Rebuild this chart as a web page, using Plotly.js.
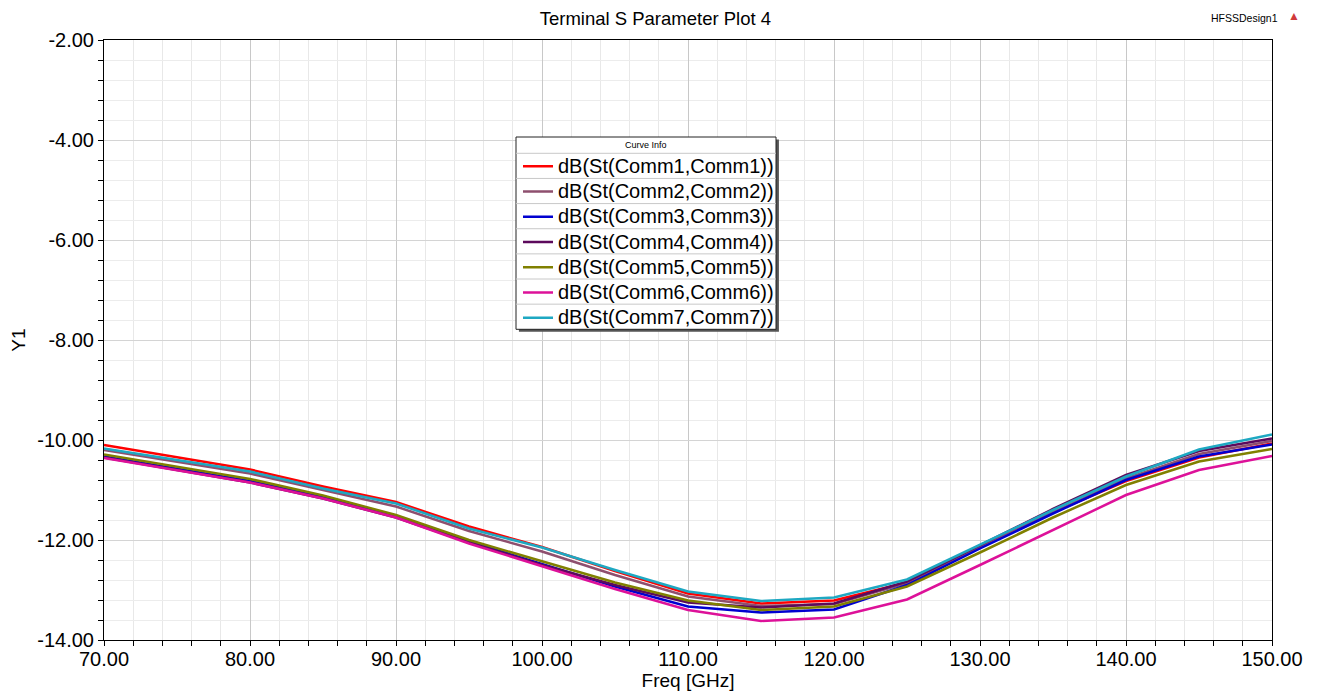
<!DOCTYPE html>
<html>
<head>
<meta charset="utf-8">
<script src="https://cdn.plot.ly/plotly-3.0.1.min.js"></script>
<style>
html,body{margin:0;padding:0;background:#fff;}
#plot{width:1320px;height:694px;}
.legendtext{font-size:20px !important;}
</style>
</head>
<body>
<div id="plot"></div>
<script>
// ---- data ----
const freq = [70,75,80,85,90,95,100,105,110,115,120,125,130,135,140,145,150];
const comm1 = [-10.10,-10.34,-10.59,-10.93,-11.24,-11.73,-12.14,-12.62,-13.07,-13.27,-13.21,-12.85,-12.15,-11.45,-10.82,-10.35,-10.07];
const comm2 = [-10.20,-10.43,-10.67,-11.00,-11.33,-11.82,-12.23,-12.70,-13.13,-13.32,-13.28,-12.86,-12.15,-11.45,-10.77,-10.28,-10.02];
const comm3 = [-10.33,-10.57,-10.82,-11.14,-11.52,-12.03,-12.48,-12.93,-13.33,-13.45,-13.39,-12.90,-12.17,-11.47,-10.80,-10.33,-10.09];
const comm4 = [-10.35,-10.60,-10.85,-11.17,-11.55,-12.05,-12.50,-12.90,-13.25,-13.35,-13.27,-12.83,-12.10,-11.38,-10.70,-10.22,-9.97];
const comm5 = [-10.29,-10.53,-10.78,-11.11,-11.50,-12.00,-12.43,-12.85,-13.21,-13.40,-13.33,-12.93,-12.25,-11.55,-10.90,-10.43,-10.18];
const comm6 = [-10.36,-10.61,-10.85,-11.17,-11.55,-12.07,-12.52,-12.98,-13.40,-13.62,-13.55,-13.19,-12.50,-11.80,-11.10,-10.60,-10.32];
const comm7 = [-10.17,-10.40,-10.63,-10.97,-11.27,-11.77,-12.15,-12.60,-13.03,-13.22,-13.15,-12.79,-12.10,-11.40,-10.73,-10.19,-9.89];
const seriesNames = ["dB(St(Comm1,Comm1))","dB(St(Comm2,Comm2))","dB(St(Comm3,Comm3))","dB(St(Comm4,Comm4))","dB(St(Comm5,Comm5))","dB(St(Comm6,Comm6))","dB(St(Comm7,Comm7))"];
const seriesColors = ["#ff0000","#8e4f6e","#0000d0","#5c0a5c","#808000","#dd1199","#1ea8c2"];
const xTickVals = [70,80,90,100,110,120,130,140,150];
const xTickText = ["70.00","80.00","90.00","100.00","110.00","120.00","130.00","140.00","150.00"];
const yTickVals = [-14,-12,-10,-8,-6,-4,-2];
const yTickText = ["-14.00","-12.00","-10.00","-8.00","-6.00","-4.00","-2.00"];

const allY = [comm1,comm2,comm3,comm4,comm5,comm6,comm7];
const FONT = "Liberation Sans, Arial, sans-serif";

const traces = allY.map((y,i)=>({
  x: freq, y: y, type:'scatter', mode:'lines', name: seriesNames[i],
  legendgroup: 'g'+i,
  line:{color: seriesColors[i], width:2.5}
}));

// legend box geometry (paper coords; plot area is 600px tall from y=40 to y=640)
const py = p => (640-p)/600;
const px = p => (p-104)/1168;
const L = {x0:px(516), x1:px(776), yTop:py(137), yHead:py(153.3), yBot:py(329.3)};
const rowH = (L.yHead - L.yBot)/7;
const shapes = [];
shapes.push({type:'rect', xref:'paper', yref:'paper', x0:L.x0+0.0025, x1:L.x1+0.0025, y0:L.yBot-0.004, y1:L.yTop-0.004, fillcolor:'#555', line:{width:0}, layer:'above'});
shapes.push({type:'rect', xref:'paper', yref:'paper', x0:L.x0, x1:L.x1, y0:L.yBot, y1:L.yTop, fillcolor:'#fff', line:{color:'#222', width:1}, layer:'above'});
for(let k=0;k<7;k++){
  const yy = L.yHead - k*rowH;
  shapes.push({type:'line', xref:'paper', yref:'paper', x0:L.x0, x1:L.x1, y0:yy, y1:yy, line:{color:'#c8c8c8', width:1}, layer:'above'});
}

const layout = {
  width:1320, height:694,
  paper_bgcolor:'#fff', plot_bgcolor:'#fff',
  margin:{l:104, r:48, t:40, b:54},
  font:{family:FONT, color:'#000'},
  title:{text:'Terminal S Parameter Plot 4', font:{family:FONT, size:18.5, color:'#000'}, x:0.4965, xanchor:'center', y:1-19/694, yanchor:'middle', yref:'container'},
  showlegend:true,
  legend:{x:px(518), xanchor:'left', y:py(148.7), yanchor:'top', bgcolor:'rgba(0,0,0,0)', borderwidth:0,
          font:{family:FONT, size:17.1, color:'#000'}, tracegroupgap:0, itemwidth:30},
  xaxis:{range:[70,150], tickvals:xTickVals, ticktext:xTickText, ticks:'outside', ticklen:5, tickcolor:'#000',
         showline:true, linecolor:'#000', linewidth:1, mirror:true,
         showgrid:true, gridcolor:'#c8c8c8', gridwidth:1, zeroline:false,
         tickfont:{family:FONT, size:20, color:'#000'}, ticklabelstandoff:-4,
         minor:{dtick:2, showgrid:true, gridcolor:'#e8e8e8', ticks:'outside', ticklen:5, tickcolor:'#000'},
         title:{text:'Freq [GHz]', font:{family:FONT, size:19, color:'#000'}, standoff:0}},
  yaxis:{range:[-14,-2], tickvals:yTickVals, ticktext:yTickText, ticks:'outside', ticklen:5, tickcolor:'#000',
         showline:true, linecolor:'#000', linewidth:1, mirror:true,
         showgrid:true, gridcolor:'#d4d4d4', gridwidth:1, zeroline:false,
         tickfont:{family:FONT, size:20, color:'#000'},
         minor:{dtick:0.4, showgrid:true, gridcolor:'#ececec', ticks:'outside', ticklen:5, tickcolor:'#000'},
         title:{text:'Y1', font:{family:FONT, size:19, color:'#000'}, standoff:6}},
  shapes: shapes,
  annotations:[
    {text:'Curve Info', xref:'paper', yref:'paper', x:(L.x0+L.x1)/2, y:(L.yTop+L.yHead)/2, xanchor:'center', yanchor:'middle', showarrow:false, font:{family:FONT, size:9, color:'#000'}},
    {text:'HFSSDesign1', xref:'paper', yref:'paper', x:px(1244), xanchor:'center', y:py(18), yanchor:'middle', showarrow:false, font:{family:FONT, size:10.5, color:'#000'}},
    {text:'▲', xref:'paper', yref:'paper', x:px(1294), xanchor:'center', y:py(16), yanchor:'middle', showarrow:false, font:{family:FONT, size:12, color:'#d03a3a'}}
  ]
};

Plotly.newPlot('plot', traces, layout, {displayModeBar:false, staticPlot:true});
</script>
</body>
</html>
